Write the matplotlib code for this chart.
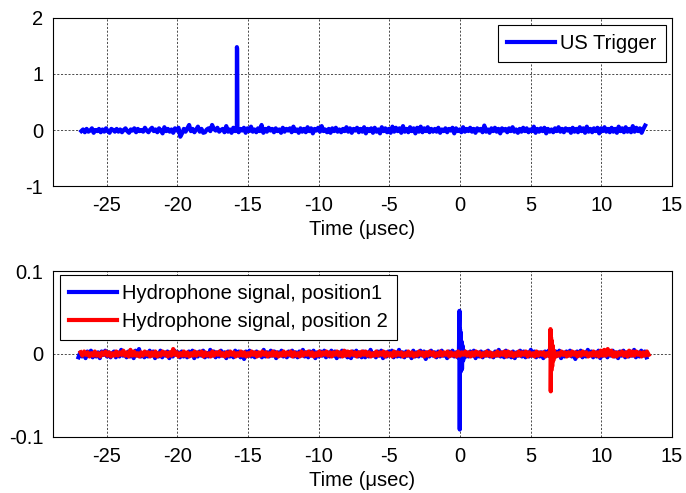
import numpy as np
import matplotlib
matplotlib.use("Agg")
import matplotlib.pyplot as plt

plt.rcParams['font.family'] = ['Liberation Sans', 'DejaVu Sans']
plt.rcParams['axes.unicode_minus'] = False

# ---- data ----
# US trigger noise, in units of 0.01 V
trigger_start, trigger_end = -26.8, 13.1
trigger_noise_cV = [
    -2, 1, -4, 2, -3, -1, 3, -5, 0, -2, 2, -4, 1, -3, 3, -2, -5, 2, 0, -3,
    2, -3, 1, -4, 0, 3, -2, -5, 1, -1, 3, -4, 2, -2, 0, -3, 4, -1, -4, 1,
    4, -2, 1, -4, 3, -1, -6, 5, -2, 2, -3, 1, -5, 3, -1, 4, -12, -6, 2, -3,
    3, 9, -2, 2, -4, 1, 6, -3, 2, -5, -4, 1, 3, -2, 9, 2, -1, 4, -3, 0,
    2, -4, 7, -3, 1, -5, 4, -2, 5, -4, 2, -1, 4, -5, 3, -2, 6, -3, 1, -4,
    3, -2, 9, -5, 2, -3, 4, -1, 2, -4, 3, -2, 1, -5, 4, -3, 2, -1, 3, -4,
    6, -2, 1, -5, 3, -3, 2, -4, 5, -2, 3, -6, 2, -1, 4, -3, 7, -2, 1, -4,
    2, -5, 3, -2, 4, -3, 1, -4, 2, -2, 5, -3, 3, -5, 2, -1, 4, -4, 2, -3,
    5, -6, 2, -2, 3, -5, 4, -3, 1, -6, 5, -2, 3, -4, 2, -5, 6, -3, 4, -2,
    3, -5, 7, -3, 2, -4, 5, -2, 3, -6, 4, -3, 6, -4, 3, -2, 5, -4, 2, -3,
    2, -3, 4, -5, 1, -2, 3, -4, 2, -1, 4, -6, 3, -2, 1, -4, 5, -3, 2, -2,
    4, -3, 2, -5, 3, -1, 2, -4, 8, -3, 1, -5, 3, -2, 4, -3, 2, -6, 3, -1,
    2, -4, 3, -2, 5, -3, 1, -5, 2, -3, 4, -2, 3, -4, 1, -2, 6, -5, 2, -3,
    3, -2, 4, -6, 2, -3, 1, -4, 3, -2, 5, -3, 2, -4, 3, -1, 2, -5, 4, -3,
    2, -4, 5, -2, 3, -5, 6, -3, 2, -4, 3, -2, 4, -6, 3, -2, 5, -3, 2, -4,
    4, -3, 2, -5, 6, -2, 3, -4, 5, -3, 2, -4, 7, -3, 4, -2, 3, -5, 2, 8,
]
trigger_pulse_t = [-15.81, -15.79, -15.77, -15.75]
trigger_pulse_v = [0.00, 1.48, 1.45, 0.02]

# Hydrophone position 1 noise, in units of 0.001 V
hyd1_start, hyd1_end = -27.0, 13.2
hyd1_noise_mV = [
    -4, 2, -3, 1, -5, 3, -2, 4, -4, 1, -3, 2, -5, 3, -1, 4, -3, 2, -4, 1,
    3, -4, 2, -3, 5, -2, 1, -4, 3, -3, 2, -5, 4, -2, 6, -3, 1, -4, 2, -3,
    4, -2, 3, -5, 1, -3, 4, -4, 2, -2, 3, -5, 2, -3, 4, -1, 2, -4, 3, -3,
    1, -4, 3, -2, 4, -5, 2, -3, 3, -2, 4, -4, 1, -3, 5, -2, 3, -4, 2, -3,
    4, -2, 2, -5, 3, -3, 1, -4, 4, -2, 3, -4, 2, -6, 3, -2, 4, -3, 2, -4,
    3, -2, 1, -4, 5, -3, 2, -3, 4, -2, 3, -5, 2, -2, 4, -3, 1, -4, 3, -2,
    4, -3, 2, -4, 3, -2, 5, -3, 2, -4, 3, -2, 4, -5, 2, -3, 3, -2, 4, -4,
    2, -3, 4, -2, 3, -5, 2, -3, 4, -2, 3, -4, 2, -5, 3, -2, 4, -3, 2, -4,
    3, -4, 2, -3, 5, -2, 1, -4, 3, -2, 4, -5, 2, -3, 3, -1, 4, -4, 2, -3,
    5, -3, 2, -4, 3, -2, 1, -5, 4, -3, 2, -3, 4, -2, 3, -6, 2, -3, 4, -2,
    2, -4, 3, -3, 4, -2, 1, -5, 3, -2, 4, -3, 2, -4, 3, -2, 5, -4, 2, -3,
    3, -2, 4, -5, 2, -3, 3, -4, 2, -2, 4, -3, 1, -4, 3, -2, 5, -3, 2, -4,
    4, -3, 2, -4, 3, -5, 2, -2, 4, -3, 3, -4, 2, -3, 5, -2, 3, -4, 2, -3,
    2, -5, 3, -2, 4, -3, 2, -4, 3, -2, 4, -5, 2, -3, 3, -2, 4, -3, 2, -6,
    3, -2, 4, -4, 2, -3, 5, -2, 3, -4, 2, -3, 4, -5, 2, -2, 3, -4, 3, -2,
    4, -3, 2, -5, 3, -2, 4, -4, 2, -3, 3, -2, 5, -4, 2, -3, 4, -2, 3, -4,
]
hyd1_pulse_t = [-0.08, -0.04, -0.02, 0.00, 0.02, 0.05, 0.08, 0.11, 0.14, 0.18, 0.22, 0.27, 0.32]
hyd1_pulse_v = [0.000, 0.052, -0.091, 0.030, -0.022, 0.026, -0.020, 0.015, -0.018, 0.010, -0.008, 0.004, -0.002]

# Hydrophone position 2 noise, in units of 0.001 V
hyd2_start, hyd2_end = -26.85, 13.35
hyd2_noise_mV = [
    2, -2, 3, -1, 2, -3, 1, -2, 3, -2, 1, -3, 2, -1, 3, -2, 2, -3, 1, -2,
    3, -2, 2, -1, 4, -2, 2, -3, 5, -2, 3, -2, 1, -3, 2, -2, 3, -1, 2, -3,
    2, -2, 3, -3, 1, -2, 3, -1, 2, -3, 2, -2, 6, -1, 2, -3, 1, -2, 3, -2,
    2, -3, 1, -2, 3, -2, 2, -1, 3, -3, 2, -2, 1, -3, 3, -2, 2, -1, 3, -2,
    1, -3, 2, -2, 3, -1, 2, -3, 1, -2, 3, -2, 2, -3, 1, -2, 3, -1, 2, -3,
    2, -2, 3, -1, 2, -3, 1, -2, 3, -2, 2, -3, 1, -2, 3, -2, 2, -1, 3, -3,
    2, -2, 1, -3, 3, -2, 2, -1, 3, -2, 2, -3, 1, -2, 3, -2, 2, -1, 3, -2,
    2, -3, 2, -1, 3, -2, 2, -3, 4, -2, 3, -2, 3, -1, 2, -3, 2, -2, 3, -1,
    3, -2, 2, -3, 1, -2, 3, -2, 2, -1, 3, -3, 2, -2, 1, -3, 3, -2, 2, -1,
    2, -3, 1, -2, 3, -2, 2, -3, 1, -2, 3, -1, 2, -3, 2, -2, 3, -1, 2, -3,
    1, -2, 3, -2, 2, -1, 3, -3, 2, -2, 1, -3, 3, -2, 2, -1, 3, -2, 2, -3,
    2, -2, 3, -1, 2, -3, 1, -2, 3, -2, 2, -3, 1, -2, 3, -2, 2, -1, 3, -3,
    3, -2, 2, -3, 1, -2, 3, -2, 2, -1, 3, -3, 2, -2, 1, -3, 3, -2, 2, -1,
    2, -3, 1, -2, 3, -2, 2, -3, 1, -2, 3, -1, 2, -3, 2, -2, 3, -1, 2, -3,
    2, -2, 3, -1, 2, -3, 1, -2, 3, -2, 2, -3, 4, -2, 5, -2, 6, -1, 4, -3,
    2, -3, 2, -1, 3, -2, 2, -3, 4, -2, 3, -2, 3, -1, 2, -3, 2, -2, 3, -1,
]
hyd2_pulse_t = [6.36, 6.40, 6.42, 6.44, 6.46, 6.49, 6.52, 6.56, 6.60, 6.65, 6.70]
hyd2_pulse_v = [0.000, 0.030, -0.045, 0.020, -0.020, 0.016, -0.015, 0.010, -0.008, 0.004, -0.002]

xticks = [-25, -20, -15, -10, -5, 0, 5, 10, 15]
top_yticks = [-1, 0, 1, 2]
bot_yticks = [-0.1, 0, 0.1]
bot_yticklabels = ['-0.1', '0', '0.1']


def merge(start, end, noise, scale, pt, pv):
    noise = np.asarray(noise, dtype=float) * scale
    t = np.linspace(start, end, len(noise))
    tt = np.concatenate([t, pt])
    vv = np.concatenate([noise, pv])
    o = np.argsort(tt, kind='stable')
    return tt[o], vv[o]


fig = plt.figure(figsize=(6.86, 4.93), dpi=100)
ax1 = fig.add_axes([0.0773, 0.6227, 0.9023, 0.3408])
ax2 = fig.add_axes([0.0773, 0.1136, 0.9023, 0.3367])

FS = 14.5
LW = 3.0
grid_kw = dict(color='#303030', linestyle=(0, (2.5, 2)), linewidth=0.6)

t1, v1 = merge(trigger_start, trigger_end, trigger_noise_cV, 0.01, trigger_pulse_t, trigger_pulse_v)
ax1.plot(t1, v1, color='#0000ff', lw=LW, label='US Trigger')
ax1.set_xlim(-28.8, 15)
ax1.set_ylim(-1, 2)
ax1.set_yticks(top_yticks)
ax1.set_xticks(xticks)

ta, va = merge(hyd1_start, hyd1_end, hyd1_noise_mV, 0.001, hyd1_pulse_t, hyd1_pulse_v)
tb, vb = merge(hyd2_start, hyd2_end, hyd2_noise_mV, 0.001, hyd2_pulse_t, hyd2_pulse_v)
ax2.plot(ta, va, color='#0000ff', lw=LW, label='Hydrophone signal, position1')
ax2.plot(tb, vb, color='#ff0000', lw=LW, label='Hydrophone signal, position 2')
ax2.set_xlim(-28.8, 15)
ax2.set_ylim(-0.1, 0.1)
ax2.set_yticks(bot_yticks)
ax2.set_yticklabels(bot_yticklabels)
ax2.set_xticks(xticks)

for ax in (ax1, ax2):
    ax.grid(True, **grid_kw)
    ax.set_axisbelow(True)
    ax.tick_params(labelsize=FS, direction='in', length=0, pad=7)
    for s in ax.spines.values():
        s.set_linewidth(0.8)
    ax.set_xlabel('Time (\u03bcsec)', fontsize=FS, labelpad=4)

leg1 = ax1.legend(loc='upper right', fontsize=FS, fancybox=False, framealpha=1,
                  edgecolor='black', handlelength=2.4, handletextpad=0.25,
                  borderpad=0.45, borderaxespad=0.0, bbox_to_anchor=(0.99, 0.96))
leg1.get_frame().set_linewidth(0.8)
leg2 = ax2.legend(loc='upper left', fontsize=FS, fancybox=False, framealpha=1,
                  edgecolor='black', handlelength=2.4, handletextpad=0.25,
                  borderpad=0.45, labelspacing=0.45, borderaxespad=0.0,
                  bbox_to_anchor=(0.011, 0.975))
leg2.get_frame().set_linewidth(0.8)

fig.savefig('out.png', dpi=100)
